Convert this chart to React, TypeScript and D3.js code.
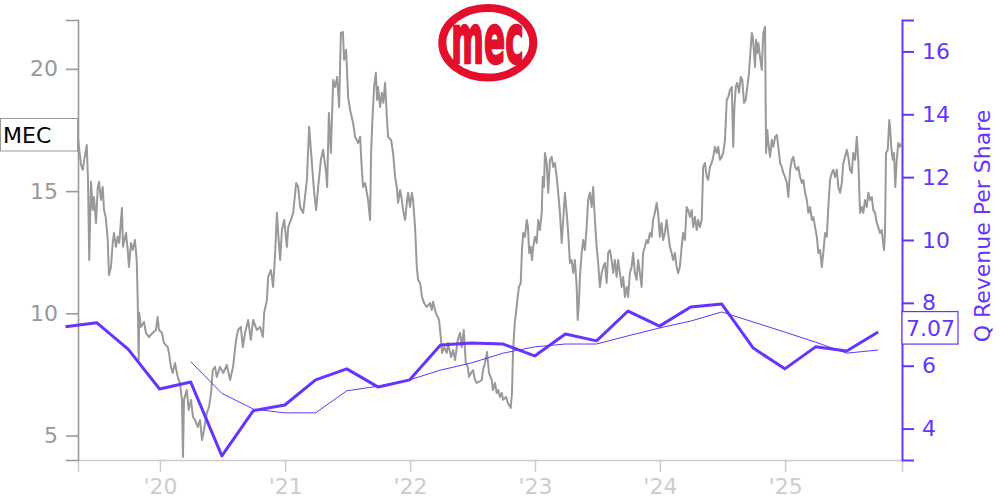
import React, { useEffect, useRef } from "react";
import * as d3 from "d3";

// Daily-ish closing price of MEC, time in decimal years
const priceT = [
  2019.344, 2019.368, 2019.382, 2019.394, 2019.414, 2019.424, 2019.434, 2019.448, 2019.462, 2019.472,
  2019.488, 2019.502, 2019.512, 2019.528, 2019.542, 2019.552, 2019.566, 2019.582, 2019.592, 2019.608,
  2019.622, 2019.632, 2019.648, 2019.662, 2019.674, 2019.696, 2019.704, 2019.728, 2019.742, 2019.752,
  2019.768, 2019.782, 2019.8, 2019.814, 2019.822, 2019.83, 2019.834, 2019.848, 2019.872, 2019.888,
  2019.912, 2019.942, 2019.968, 2019.982, 2019.992, 2020.016, 2020.032, 2020.062, 2020.072, 2020.088,
  2020.102, 2020.12, 2020.142, 2020.16, 2020.176, 2020.184, 2020.192, 2020.214, 2020.23, 2020.248,
  2020.264, 2020.28, 2020.302, 2020.32, 2020.336, 2020.352, 2020.374, 2020.392, 2020.408, 2020.422,
  2020.44, 2020.454, 2020.48, 2020.506, 2020.534, 2020.56, 2020.584, 2020.608, 2020.624, 2020.646,
  2020.662, 2020.68, 2020.704, 2020.726, 2020.744, 2020.774, 2020.8, 2020.822, 2020.832, 2020.854,
  2020.864, 2020.886, 2020.904, 2020.92, 2020.934, 2020.944, 2020.96, 2020.974, 2020.992, 2021.014,
  2021.024, 2021.046, 2021.064, 2021.088, 2021.104, 2021.12, 2021.144, 2021.174, 2021.192, 2021.214,
  2021.232, 2021.248, 2021.264, 2021.286, 2021.304, 2021.328, 2021.336, 2021.35, 2021.366, 2021.384,
  2021.4, 2021.416, 2021.432, 2021.446, 2021.462, 2021.472, 2021.488, 2021.504, 2021.52, 2021.544,
  2021.56, 2021.584, 2021.6, 2021.614, 2021.624, 2021.64, 2021.654, 2021.664, 2021.68, 2021.688,
  2021.696, 2021.712, 2021.726, 2021.736, 2021.744, 2021.76, 2021.774, 2021.786, 2021.8, 2021.814,
  2021.824, 2021.848, 2021.864, 2021.88, 2021.894, 2021.904, 2021.92, 2021.934, 2021.944, 2021.96,
  2021.974, 2021.984, 2022.0, 2022.014, 2022.024, 2022.04, 2022.054, 2022.064, 2022.08, 2022.096,
  2022.112, 2022.134, 2022.16, 2022.174, 2022.184, 2022.206, 2022.222, 2022.232, 2022.248, 2022.256,
  2022.272, 2022.294, 2022.304, 2022.328, 2022.344, 2022.36, 2022.382, 2022.4, 2022.414, 2022.43,
  2022.446, 2022.462, 2022.472, 2022.488, 2022.504, 2022.52, 2022.534, 2022.546, 2022.574, 2022.584,
  2022.6, 2022.616, 2022.632, 2022.654, 2022.664, 2022.68, 2022.694, 2022.706, 2022.72, 2022.734,
  2022.744, 2022.768, 2022.784, 2022.806, 2022.816, 2022.824, 2022.838, 2022.848, 2022.856, 2022.872,
  2022.886, 2022.896, 2022.906, 2022.92, 2022.934, 2022.944, 2022.954, 2022.966, 2022.976, 2022.986,
  2023.0, 2023.014, 2023.026, 2023.04, 2023.054, 2023.062, 2023.072, 2023.08, 2023.094, 2023.106,
  2023.12, 2023.134, 2023.146, 2023.16, 2023.174, 2023.186, 2023.2, 2023.214, 2023.226, 2023.24,
  2023.254, 2023.266, 2023.28, 2023.294, 2023.306, 2023.32, 2023.334, 2023.342, 2023.352, 2023.36,
  2023.374, 2023.386, 2023.4, 2023.414, 2023.426, 2023.44, 2023.454, 2023.466, 2023.48, 2023.494,
  2023.506, 2023.52, 2023.534, 2023.546, 2023.56, 2023.574, 2023.586, 2023.6, 2023.614, 2023.626,
  2023.64, 2023.654, 2023.666, 2023.68, 2023.694, 2023.706, 2023.72, 2023.734, 2023.746, 2023.76,
  2023.774, 2023.786, 2023.8, 2023.814, 2023.826, 2023.84, 2023.854, 2023.866, 2023.88, 2023.894,
  2023.906, 2023.92, 2023.934, 2023.946, 2023.96, 2023.974, 2023.986, 2024.0, 2024.014, 2024.026,
  2024.04, 2024.054, 2024.066, 2024.08, 2024.094, 2024.106, 2024.12, 2024.134, 2024.146, 2024.16,
  2024.174, 2024.186, 2024.2, 2024.214, 2024.226, 2024.24, 2024.254, 2024.266, 2024.28, 2024.294,
  2024.306, 2024.32, 2024.334, 2024.346, 2024.36, 2024.374, 2024.386, 2024.4, 2024.414, 2024.426,
  2024.44, 2024.454, 2024.466, 2024.48, 2024.494, 2024.506, 2024.52, 2024.534, 2024.546, 2024.56,
  2024.574, 2024.586, 2024.594, 2024.606, 2024.618, 2024.632, 2024.646, 2024.658, 2024.672, 2024.686,
  2024.698, 2024.712, 2024.72, 2024.734, 2024.742, 2024.752, 2024.76, 2024.768, 2024.778, 2024.786,
  2024.8, 2024.814, 2024.826, 2024.84, 2024.848, 2024.858, 2024.866, 2024.88, 2024.894, 2024.906,
  2024.92, 2024.934, 2024.946, 2024.96, 2024.974, 2024.986, 2025.0, 2025.014, 2025.026, 2025.04,
  2025.054, 2025.066, 2025.08, 2025.094, 2025.106, 2025.12, 2025.134, 2025.146, 2025.16, 2025.174,
  2025.186, 2025.2, 2025.214, 2025.226, 2025.24, 2025.254, 2025.266, 2025.28, 2025.294, 2025.306,
  2025.32, 2025.334, 2025.346, 2025.36, 2025.374, 2025.386, 2025.4, 2025.414, 2025.426, 2025.44,
  2025.454, 2025.466, 2025.48, 2025.494, 2025.506, 2025.52, 2025.534, 2025.546, 2025.56, 2025.574,
  2025.586, 2025.6, 2025.614, 2025.626, 2025.64, 2025.654, 2025.666, 2025.68, 2025.694, 2025.706,
  2025.72, 2025.734, 2025.746, 2025.76, 2025.774, 2025.782, 2025.792, 2025.8, 2025.808, 2025.822,
  2025.834, 2025.84, 2025.85, 2025.862, 2025.872, 2025.882, 2025.894, 2025.906, 2025.92, 2025.934,
];
const priceV = [
  17.18, 16.07, 15.87, 16.28, 16.89, 15.46, 12.18, 15.38, 14.23, 14.76,
  13.7, 15.13, 15.38, 14.64, 15.17, 14.23, 13.94, 13.0, 11.57, 11.9,
  12.88, 13.29, 12.72, 13.13, 12.88, 14.31, 12.72, 13.29, 12.59, 11.9,
  12.88, 12.59, 13.0, 12.18, 10.55, 8.09, 10.02, 9.44, 9.65, 9.2,
  9.03, 9.2, 9.32, 9.85, 9.32, 9.2, 8.79, 8.62, 8.38, 7.81,
  7.56, 7.97, 7.4, 7.15, 6.46, 4.12, 6.46, 6.86, 6.05, 6.46,
  5.76, 5.64, 5.35, 5.64, 4.82, 5.23, 5.92, 6.17, 6.74, 7.68,
  7.81, 7.4, 7.81, 7.56, 7.89, 7.27, 7.81, 8.91, 9.32, 9.44,
  8.62, 9.2, 9.73, 8.91, 9.73, 9.32, 9.44, 9.03, 10.02, 10.55,
  11.49, 11.77, 11.08, 12.47, 14.11, 13.29, 12.18, 13.41, 13.82, 12.72,
  13.53, 13.82, 14.11, 15.33, 15.17, 14.35, 14.11, 15.46, 17.63, 16.15,
  14.93, 14.23, 15.17, 16.28, 16.69, 15.74, 15.17, 18.2, 16.56, 19.55,
  19.26, 19.67, 18.44, 21.47, 21.51, 20.37, 20.78, 18.85, 18.32, 17.79,
  17.22, 16.97, 17.22, 15.87, 15.17, 15.33, 14.93, 14.64, 13.82, 16.56,
  17.63, 19.26, 19.84, 18.73, 19.26, 18.44, 19.02, 18.61, 19.43, 18.04,
  17.22, 17.09, 16.56, 15.58, 15.17, 14.52, 15.05, 14.64, 14.23, 13.82,
  14.52, 14.93, 14.35, 14.93, 14.64, 13.53, 11.9, 11.37, 11.24, 10.67,
  10.42, 10.26, 10.42, 10.14, 10.47, 10.02, 9.85, 9.73, 8.91, 8.38,
  8.62, 8.38, 8.79, 8.21, 8.5, 8.09, 8.91, 9.2, 8.62, 9.32,
  7.97, 7.81, 7.4, 7.56, 7.68, 7.27, 7.15, 7.19, 7.27, 7.68,
  7.97, 8.42, 7.56, 7.27, 6.86, 7.15, 6.74, 6.86, 6.58, 6.74,
  6.46, 6.58, 6.33, 6.13, 6.74, 8.38, 9.61, 10.02, 10.42, 11.08,
  11.24, 12.59, 13.29, 13.13, 13.82, 13.53, 12.47, 12.72, 12.18, 12.72,
  13.13, 12.88, 13.82, 13.41, 14.11, 15.58, 15.17, 16.56, 16.15, 14.93,
  16.28, 16.4, 15.99, 16.15, 15.58, 14.93, 14.11, 12.88, 13.82, 14.93,
  14.11, 13.29, 12.06, 12.18, 11.65, 12.18, 11.08, 9.73, 10.42, 11.49,
  12.47, 13.0, 12.59, 13.53, 14.64, 14.93, 14.35, 15.17, 13.82, 12.72,
  12.06, 11.08, 11.65, 11.9, 12.06, 11.24, 12.47, 12.59, 12.18, 11.65,
  12.18, 11.49, 12.18, 11.65, 11.08, 11.49, 10.67, 11.08, 10.67, 11.65,
  11.9, 12.47, 11.65, 11.37, 12.18, 11.65, 11.08, 12.47, 12.72, 13.0,
  12.88, 13.29, 13.13, 13.82, 14.11, 14.52, 14.11, 13.13, 13.7, 13.0,
  13.29, 13.82, 13.29, 12.72, 12.47, 12.18, 12.47, 11.9, 11.65, 11.9,
  12.72, 13.29, 13.0, 14.35, 14.23, 13.94, 14.23, 13.53, 13.94, 13.41,
  13.82, 13.53, 13.82, 15.99, 16.15, 15.58, 15.46, 15.99, 16.15, 16.4,
  16.81, 16.56, 16.81, 16.28, 16.4, 16.56, 17.09, 18.73, 18.85, 19.14,
  19.26, 16.81, 18.32, 19.26, 19.43, 19.02, 19.67, 19.55, 18.61, 18.73,
  19.26, 19.84, 20.49, 21.47, 21.31, 20.65, 20.08, 21.19, 20.65, 21.06,
  20.49, 19.96, 21.47, 21.72, 16.56, 17.5, 16.97, 16.4, 17.09, 16.81,
  17.22, 17.3, 16.81, 16.15, 15.99, 15.74, 15.58, 15.33, 14.76, 15.87,
  16.28, 16.4, 15.99, 15.87, 15.99, 15.58, 15.33, 15.46, 14.93, 14.64,
  14.11, 14.35, 13.82, 13.94, 13.53, 13.13, 12.47, 12.59, 11.9, 12.47,
  13.29, 13.13, 14.35, 15.46, 15.74, 15.87, 15.58, 15.87, 15.17, 14.93,
  15.33, 16.15, 16.4, 16.69, 16.4, 15.87, 15.74, 16.56, 16.28, 17.22,
  16.28, 14.11, 14.35, 14.11, 14.64, 14.35, 14.93, 14.64, 14.76, 14.23,
  14.11, 13.7, 13.53, 13.29, 13.41, 13.0, 12.59, 13.29, 16.56, 16.69,
  17.91, 17.63, 16.81, 16.28, 16.56, 15.17, 16.28, 16.97, 16.81, 16.97,
];

// Quarterly revenue per share
const quarterDates = [
  "2019-03-31", "2019-06-30", "2019-09-30", "2019-12-31",
  "2020-03-31", "2020-06-30", "2020-09-30", "2020-12-31",
  "2021-03-31", "2021-06-30", "2021-09-30", "2021-12-31",
  "2022-03-31", "2022-06-30", "2022-09-30", "2022-12-31",
  "2023-03-31", "2023-06-30", "2023-09-30", "2023-12-31",
  "2024-03-31", "2024-06-30", "2024-09-30", "2024-12-31",
  "2025-03-31", "2025-06-30", "2025-09-30",
];
const qRevenue = [
  7.24, 7.37, 6.53, 5.26,
  5.48, 3.13, 4.57, 4.75,
  5.55, 5.9, 5.32, 5.55,
  6.66, 6.72, 6.69, 6.31,
  7.01, 6.79, 7.74, 7.26,
  7.87, 7.96, 6.56, 5.9,
  6.6, 6.47, 7.07,
];
// Trailing average line (starts Q1 2020)
const avgDates = [
  "2020-03-31", "2020-06-30", "2020-09-30", "2020-12-31",
  "2021-03-31", "2021-06-30", "2021-09-30", "2021-12-31",
  "2022-03-31", "2022-06-30", "2022-09-30", "2022-12-31",
  "2023-03-31", "2023-06-30", "2023-09-30", "2023-12-31",
  "2024-03-31", "2024-06-30", "2024-09-30", "2024-12-31",
  "2025-03-31", "2025-06-30", "2025-09-30",
];
const qAvg = [
  6.13, 5.12, 4.62, 4.5,
  4.5, 5.2, 5.35, 5.55,
  5.86, 6.09, 6.4, 6.6,
  6.69, 6.69, 6.95, 7.2,
  7.42, 7.71, 7.39, 7.07,
  6.75, 6.4, 6.5,
];

const xTickDates = ["2020-01-01", "2021-01-01", "2022-01-01", "2023-01-01", "2024-01-01", "2025-01-01"];
const leftTicks = [5, 10, 15, 20];
const rightTicks = [4, 6, 8, 10, 12, 14, 16];
const xStart = 2019.344;
const xEnd = 2025.936;
const leftDomain = [4, 22];
const rightDomain = [3, 17];
const lastValueLabel = "7.07";
const tickerLabel = "MEC";
const rightTitle = "Q Revenue Per Share";
const logoText = "mec";

const FONT = "DejaVu Sans, sans-serif";
const PURPLE = "#6633ff";
const GRAY = "#999999";
const LIGHT = "#cccccc";
const RED = "#e30f2b";

function decYear(t: number): Date {
  const y = Math.floor(t);
  const s = Date.UTC(y, 0, 1);
  const e = Date.UTC(y + 1, 0, 1);
  return new Date(s + (t - y) * (e - s));
}
const parse = (s: string) => new Date(s + "T00:00:00Z");

export default function App() {
  const xAxisRef = useRef<SVGGElement>(null);
  const lAxisRef = useRef<SVGGElement>(null);
  const rAxisRef = useRef<SVGGElement>(null);

  const left = 78, right = 902, top = 20, bottom = 460;
  const x = d3.scaleUtc().domain([decYear(xStart), decYear(xEnd)]).range([left, right]);
  const yL = d3.scaleLinear().domain(leftDomain).range([bottom, top]);
  const yR = d3.scaleLinear().domain(rightDomain).range([bottom, top]);

  const priceData = priceT.map((t, i) => ({ d: decYear(t), v: priceV[i] }));
  const revData = quarterDates.map((s, i) => ({ d: parse(s), v: qRevenue[i] }));
  const avgData = avgDates.map((s, i) => ({ d: parse(s), v: qAvg[i] }));

  const priceLine = d3.line<{ d: Date; v: number }>().x((p) => x(p.d)).y((p) => yL(p.v));
  const revLine = d3.line<{ d: Date; v: number }>().x((p) => x(p.d)).y((p) => yR(p.v));

  useEffect(() => {
    const fx = d3.select(xAxisRef.current!);
    fx.call(
      d3.axisBottom(x)
        .tickValues(xTickDates.map(parse))
        .tickFormat((d: any) => "'" + String((d as Date).getUTCFullYear()).slice(2))
        .tickSize(12)
        .tickSizeOuter(12)
        .tickPadding(6) as any
    );
    fx.selectAll("path,line").attr("stroke", LIGHT).attr("stroke-width", 1.5);
    fx.selectAll("text").attr("fill", LIGHT).attr("font-size", 22).attr("font-family", FONT);

    const fl = d3.select(lAxisRef.current!);
    fl.call(d3.axisLeft(yL).tickValues(leftTicks).tickSize(12).tickSizeOuter(12).tickPadding(8) as any);
    fl.selectAll("path,line").attr("stroke", GRAY).attr("stroke-width", 1.6);
    fl.selectAll("text").attr("fill", GRAY).attr("font-size", 22).attr("font-family", FONT);

    const fr = d3.select(rAxisRef.current!);
    fr.call(d3.axisRight(yR).tickValues(rightTicks).tickSize(12).tickSizeOuter(12).tickPadding(8) as any);
    fr.selectAll("path,line").attr("stroke", PURPLE).attr("stroke-width", 2);
    fr.selectAll("text").attr("fill", PURPLE).attr("font-size", 22).attr("font-family", FONT);
    d3.selectAll(".domain").attr("fill", "none");
  }, []);

  const lastY = yR(qRevenue[qRevenue.length - 1]);

  return (
    <svg
      width={1000}
      height={500}
      style={{ position: "absolute", left: 0, top: 0, display: "block", background: "#fff" }}
    >
      {/* logo */}
      <g>
        <ellipse cx={487.8} cy={42.8} rx={45.5} ry={34.8} fill="#fff" stroke={RED} strokeWidth={8} />
        <text
          transform="translate(487.5,63) scale(0.46,1)"
          textAnchor="middle"
          fontFamily={FONT}
          fontWeight="bold"
          fontSize={68}
          fill={RED}
          stroke={RED}
          strokeWidth={2.5}
          strokeLinejoin="round"
        >
          {logoText}
        </text>
      </g>

      <g ref={xAxisRef} transform={`translate(0,${bottom})`} />
      <g ref={lAxisRef} transform={`translate(${left},0)`} />
      <g ref={rAxisRef} transform={`translate(${right},0)`} />

      <path d={priceLine(priceData) || ""} fill="none" stroke={GRAY} strokeWidth={2} strokeLinejoin="round" />
      <path d={revLine(avgData) || ""} fill="none" stroke={PURPLE} strokeWidth={1} />
      <path d={revLine(revData) || ""} fill="none" stroke={PURPLE} strokeWidth={3} strokeLinejoin="round" />

      {/* ticker label */}
      <rect x={0.5} y={118.5} width={77} height={32.5} fill="#fff" stroke={GRAY} strokeWidth={1} />
      <text x={3} y={143} fontFamily={FONT} fontSize={22} fill="#000">
        {tickerLabel}
      </text>

      {/* last value label */}
      <rect x={right} y={lastY - 20.5} width={56} height={32.5} fill="#fff" stroke={PURPLE} strokeWidth={1.2} />
      <text x={right + 4} y={lastY + 4} fontFamily={FONT} fontSize={22} fill={PURPLE}>
        {lastValueLabel}
      </text>

      <text
        transform={`translate(990,226) rotate(-90)`}
        textAnchor="middle"
        fontFamily={FONT}
        fontSize={22}
        fill={PURPLE}
      >
        {rightTitle}
      </text>
    </svg>
  );
}
